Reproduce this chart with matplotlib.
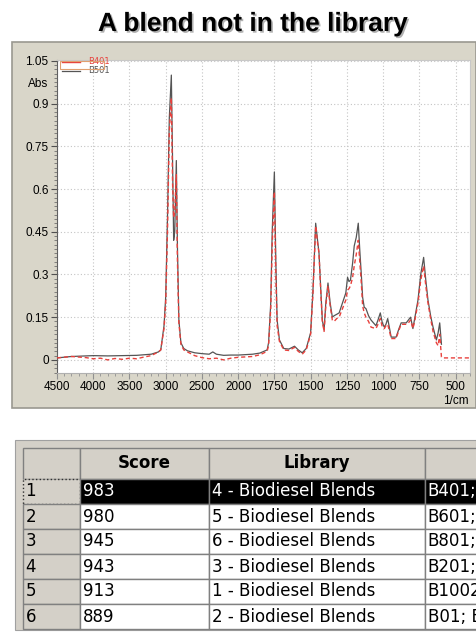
import numpy as np
import matplotlib
matplotlib.use("Agg")
import matplotlib.pyplot as plt
import matplotlib.patheffects as pe
from matplotlib.patches import Rectangle
from matplotlib.ticker import FixedLocator, AutoMinorLocator
import matplotlib.transforms as mtrans

# spectrum B501 (grey)
wn_b501 = [4500, 4300, 4000, 3800, 3600, 3400, 3200, 3100, 3068, 3023, 3000, 2975, 2950,
           2922, 2905, 2890, 2875, 2853, 2838, 2818, 2790, 2750, 2700, 2600, 2500, 2400,
           2350, 2300, 2200, 2100, 2000, 1900, 1850, 1800, 1790, 1775, 1765, 1750, 1740,
           1731, 1715, 1685, 1650, 1611, 1585, 1558, 1530, 1500, 1484, 1465, 1452, 1442,
           1430, 1419, 1407, 1395, 1380, 1365, 1350, 1338, 1320, 1303, 1280, 1257, 1245,
           1235, 1225, 1210, 1199, 1185, 1171, 1160, 1150, 1141, 1130, 1118, 1100, 1083,
           1049, 1035, 1019, 1005, 991, 980, 968, 955, 944, 910, 890, 875, 840, 825, 810,
           794, 780, 759, 740, 720, 705, 690, 670, 655, 632, 620, 609, 597]
abs_b501 = [0.007, 0.012, 0.015, 0.014, 0.015, 0.016, 0.02, 0.028, 0.035, 0.12, 0.22, 0.5,
            0.85, 1.0, 0.7, 0.42, 0.45, 0.70, 0.4, 0.14, 0.06, 0.04, 0.032, 0.025, 0.022,
            0.02, 0.028, 0.02, 0.016, 0.017, 0.017, 0.02, 0.024, 0.035, 0.06, 0.2, 0.45,
            0.66, 0.35, 0.14, 0.07, 0.04, 0.038, 0.048, 0.035, 0.025, 0.04, 0.095, 0.24,
            0.48, 0.42, 0.375, 0.25, 0.14, 0.105, 0.2, 0.27, 0.2, 0.15, 0.155, 0.16, 0.165,
            0.2, 0.235, 0.29, 0.275, 0.28, 0.34, 0.40, 0.43, 0.48, 0.38, 0.30, 0.22, 0.185,
            0.18, 0.155, 0.14, 0.12, 0.14, 0.165, 0.13, 0.115, 0.125, 0.145, 0.11, 0.08,
            0.08, 0.11, 0.13, 0.13, 0.14, 0.15, 0.11, 0.15, 0.21, 0.30, 0.36, 0.28, 0.21,
            0.15, 0.115, 0.07, 0.095, 0.13, 0.055]

# spectrum B401 (red)
wn_b401 = [4500, 4300, 4100, 4000, 3900, 3800, 3700, 3600, 3500, 3400, 3300, 3200, 3100,
           3068, 3023, 3000, 2975, 2950, 2922, 2905, 2890, 2875, 2853, 2838, 2818, 2790,
           2750, 2700, 2600, 2500, 2400, 2300, 2200, 2100, 2000, 1900, 1850, 1800, 1790,
           1775, 1765, 1750, 1740, 1731, 1715, 1685, 1650, 1611, 1585, 1558, 1530, 1500,
           1484, 1465, 1452, 1442, 1430, 1419, 1407, 1395, 1380, 1365, 1350, 1338, 1320,
           1303, 1280, 1257, 1245, 1235, 1225, 1210, 1199, 1185, 1171, 1160, 1150, 1141,
           1130, 1118, 1100, 1083, 1049, 1035, 1019, 1005, 991, 980, 968, 955, 944, 910,
           890, 875, 840, 825, 810, 794, 780, 759, 740, 720, 705, 690, 670, 655, 632, 620,
           609, 597, 590, 400]
abs_b401 = [0.007, 0.012, 0.008, 0.004, 0.006, 0.0, 0.005, 0.002, 0.006, 0.004, 0.01,
            0.015, 0.028, 0.035, 0.11, 0.2, 0.45, 0.8, 0.92, 0.62, 0.5, 0.52, 0.65, 0.35,
            0.13, 0.055, 0.035, 0.028, 0.015, 0.008, 0.004, 0.006, 0.0, 0.006, 0.009,
            0.012, 0.018, 0.03, 0.05, 0.18, 0.40, 0.59, 0.3, 0.12, 0.065, 0.035, 0.033,
            0.044, 0.03, 0.02, 0.035, 0.09, 0.23, 0.47, 0.41, 0.375, 0.24, 0.135, 0.10,
            0.19, 0.26, 0.19, 0.14, 0.135, 0.145, 0.15, 0.18, 0.21, 0.245, 0.25, 0.26,
            0.29, 0.33, 0.37, 0.42, 0.34, 0.27, 0.19, 0.165, 0.15, 0.135, 0.115, 0.11,
            0.125, 0.145, 0.115, 0.11, 0.12, 0.125, 0.1, 0.075, 0.075, 0.105, 0.125,
            0.125, 0.13, 0.14, 0.11, 0.14, 0.20, 0.28, 0.33, 0.26, 0.20, 0.14, 0.10,
            0.06, 0.05, 0.09, 0.01, 0.007, 0.007]

x_ticks = [4500, 4000, 3500, 3000, 2500, 2000, 1750, 1500, 1250, 1000, 750, 500]
y_ticks = [0, 0.15, 0.3, 0.45, 0.6, 0.75, 0.9, 1.05]
y_labels = ["0", "0.15", "0.3", "0.45", "0.6", "0.75", "0.9", "1.05"]

# hit list table
rank = ["1", "2", "3", "4", "5", "6"]
score = ["983", "980", "945", "943", "913", "889"]
library = ["4 - Biodiesel Blends", "5 - Biodiesel Blends", "6 - Biodiesel Blends",
           "3 - Biodiesel Blends", "1 - Biodiesel Blends", "2 - Biodiesel Blends"]
sample = ["B401;", "B601;", "B801;", "B201;", "B1002", "B01; B"]
headers = ["", "Score", "Library", ""]

W, H = 476, 637
PANEL = "#d9d6c9"


def px(x, y):
    return x / W, 1 - y / H


# wavenumber axis is compressed 2:1 above 2000 1/cm
def fwd(v):
    v = np.asarray(v, dtype=float)
    return np.where(v > 2000, 2000 + (v - 2000) / 2, v)


def inv(u):
    u = np.asarray(u, dtype=float)
    return np.where(u > 2000, 2000 + (u - 2000) * 2, u)


fig = plt.figure(figsize=(W / 100, H / 100), dpi=100)
fig.patch.set_facecolor("white")

# grey chart panel
x0, y0 = px(12, 408)
fig.patches.append(Rectangle((x0, y0), (476 - 12) / W, (408 - 42) / H,
                             transform=fig.transFigure, facecolor=PANEL,
                             edgecolor="#9a9890", linewidth=1.2, zorder=-5))

fig.text(253 / W, 1 - 24 / H, "A blend not in the library", ha="center", va="center",
         fontsize=19, fontweight="bold", family="Liberation Sans",
         path_effects=[pe.withSimplePatchShadow(offset=(1.2, -1.2),
                                                shadow_rgbFace="#b0b0b0", alpha=1)])

ax = fig.add_axes([57 / W, 1 - 373 / H, 413 / W, 313 / H])
ax.set_xscale("function", functions=(fwd, inv))
ax.set_xlim(4500, 400)
ax.set_ylim(-0.046, 1.053)
ax.set_facecolor("white")

ax.plot(wn_b501, abs_b501, color="#555555", lw=0.9, label="B501", zorder=3)
ax.plot(wn_b401, abs_b401, color="#e8403c", lw=1.0, dashes=(3, 2), label="B401", zorder=4)

ax.xaxis.set_major_locator(FixedLocator(x_ticks))
ax.set_xticklabels([str(t) for t in x_ticks])
minor_x = list(range(4500, 2000, -100)) + list(range(2000, 399, -50))
ax.xaxis.set_minor_locator(FixedLocator(minor_x))
ax.yaxis.set_major_locator(FixedLocator(y_ticks))
ax.set_yticklabels(y_labels)
ax.yaxis.set_minor_locator(AutoMinorLocator(10))

ax.grid(True, which="major", color="#c4c4c4", lw=0.8, linestyle=(0, (1, 2)))
ax.tick_params(which="major", length=4, width=0.8, color="#505050", pad=2, labelsize=8.5)
ax.tick_params(which="minor", length=2.5, width=0.6, color="#707070")
ax.tick_params(axis="x", which="both", color="#909090")
for lab in ax.get_xticklabels() + ax.get_yticklabels():
    lab.set_family("Liberation Sans")
    lab.set_fontsize(8.5)

ax.spines["left"].set_color("#606060")
ax.spines["bottom"].set_color("#b0b0b0")
ax.spines["top"].set_color("#c8c8c8")
ax.spines["right"].set_color("#c8c8c8")
for s in ax.spines.values():
    s.set_linewidth(0.8)

yt = mtrans.blended_transform_factory(ax.transAxes, ax.transData)
ax.text(-0.022, 0.97, "Abs", transform=yt, ha="right", va="center",
        fontsize=8.5, family="Liberation Sans")
xt = mtrans.blended_transform_factory(ax.transData, ax.transAxes)
ax.text(500, -0.088, "1/cm", transform=xt, ha="center", va="center",
        fontsize=8.5, family="Liberation Sans")

# legend, first entry boxed (selected)
handles, labels = ax.get_legend_handles_labels()
leg = ax.legend(handles[::-1], labels[::-1], loc="upper left", bbox_to_anchor=(0.012, 1.008),
                frameon=False, fontsize=6, handlelength=2.2, handletextpad=0.9,
                labelspacing=0.0, borderaxespad=0, borderpad=0)
for txt, h in zip(leg.get_texts(), leg.legend_handles):
    txt.set_color(h.get_color())
    h.set_linestyle("-")
ax.add_patch(Rectangle((0.008, 0.97), 0.106, 0.026, transform=ax.transAxes,
                       facecolor="none", edgecolor="#e0a070", lw=0.8, zorder=6))

# table frame
fig.patches.append(Rectangle(px(15, 630), (476 - 15) / W, (630 - 440) / H,
                             transform=fig.transFigure, facecolor="#d4d0c8",
                             edgecolor="#a0a0a0", linewidth=0.8, zorder=-5))

col_px = [57, 129, 216, 110]
row_px = [31] + [25] * 6
tw, th = sum(col_px), sum(row_px)
tax = fig.add_axes([23 / W, 1 - (448 + th) / H, tw / W, th / H])
tax.set_axis_off()

cells = [[r, s, l, c] for r, s, l, c in zip(rank, score, library, sample)]
tbl = tax.table(cellText=cells, colLabels=headers, bbox=[0, 0, 1, 1],
                cellLoc="left", colLoc="center")
tbl.auto_set_font_size(False)
tbl.set_fontsize(12)
for (r, c), cell in tbl.get_celld().items():
    cell.set_width(col_px[c] / tw)
    cell.set_height(row_px[r] / th)
    cell.set_edgecolor("#808080")
    cell.set_linewidth(1.0)
    cell.PAD = 2.5 / col_px[c]
    cell.get_text().set_family("DejaVu Sans")
    if r == 0:
        cell.set_facecolor("#d4d0c8")
        cell.get_text().set_fontweight("bold")
    elif c == 0:
        cell.set_facecolor("#d4d0c8")
    elif r == 1:
        cell.set_facecolor("black")
        cell.get_text().set_color("white")
    else:
        cell.set_facecolor("white")
tbl[(1, 0)].set_linestyle(":")
tbl[(1, 0)].set_edgecolor("#303030")

fig.savefig("out.png", dpi=100)
